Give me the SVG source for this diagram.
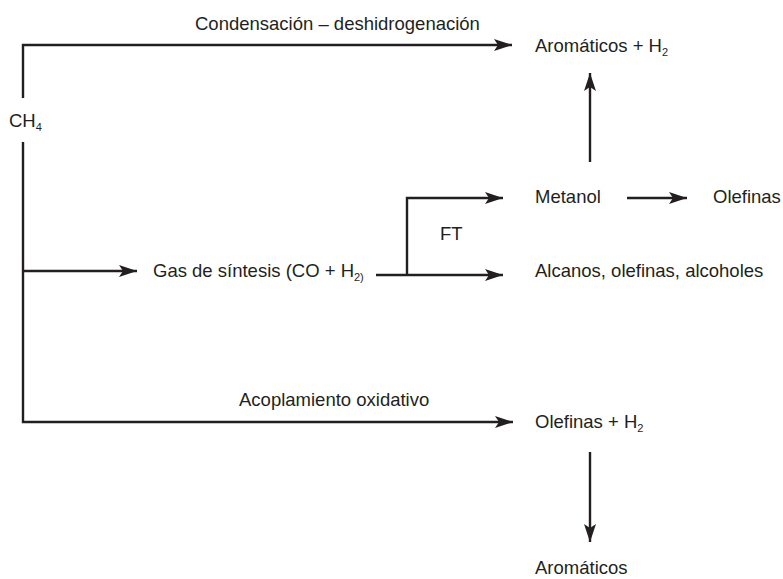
<svg xmlns="http://www.w3.org/2000/svg" width="783" height="579" viewBox="0 0 783 579">
  <defs>
    <marker id="ah" markerWidth="20" markerHeight="14" refX="18" refY="7" orient="auto" markerUnits="userSpaceOnUse" viewBox="0 0 20 14">
      <path d="M18,7 L0,1 L4,7 L0,13 Z" fill="#231f20"/>
    </marker>
    <style>
      text { font-family: "Liberation Sans", Arial, sans-serif; font-size: 18.5px; fill: #231f20; }
      .sub { font-size: 11px; }
      .ln { fill: none; stroke: #231f20; stroke-width: 2.4; }
      .arr { marker-end: url(#ah); }
    </style>
  </defs>
  <rect width="783" height="579" fill="#ffffff"/>

  <g id="connectors">
    <path class="ln arr" d="M23,98 V45 H512"/>
    <path class="ln arr" d="M23,142 V422 H513"/>
    <path class="ln arr" d="M23,271 H137"/>
    <path class="ln arr" d="M376,275 H503"/>
    <path class="ln arr" d="M407,275 V198 H503"/>
    <path class="ln arr" d="M627,198 H687"/>
    <path class="ln arr" d="M590,162 V73"/>
    <path class="ln arr" d="M590,452 V542"/>
  </g>

  <g id="label-condensacion"><text x="195" y="30">Condensación – deshidrogenación</text></g>
  <g id="label-acoplamiento"><text x="239" y="406">Acoplamiento oxidativo</text></g>
  <g id="label-ft"><text x="440" y="240">FT</text></g>

  <g id="node-ch4"><text x="9" y="127">CH<tspan class="sub" dy="4">4</tspan></text></g>
  <g id="node-aromaticos-h2"><text x="535" y="52">Aromáticos + H<tspan class="sub" dy="4">2</tspan></text></g>
  <g id="node-gas-sintesis"><text x="153" y="277">Gas de síntesis (CO + H<tspan class="sub" dy="4">2)</tspan></text></g>
  <g id="node-metanol"><text x="535" y="203">Metanol</text></g>
  <g id="node-olefinas"><text x="713" y="203">Olefinas</text></g>
  <g id="node-alcanos"><text x="535" y="277">Alcanos, olefinas, alcoholes</text></g>
  <g id="node-olefinas-h2"><text x="535" y="428">Olefinas + H<tspan class="sub" dy="4">2</tspan></text></g>
  <g id="node-aromaticos"><text x="535" y="574">Aromáticos</text></g>
</svg>
